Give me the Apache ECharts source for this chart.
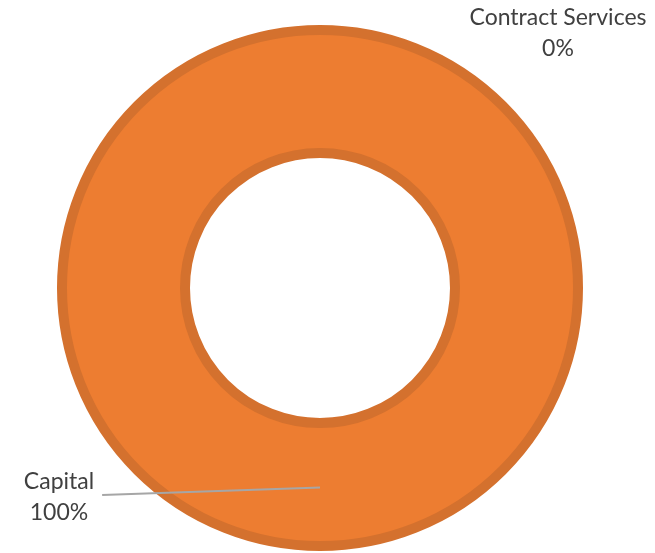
<!DOCTYPE html>
<html>
<head>
<meta charset="utf-8">
<script src="https://cdn.jsdelivr.net/npm/echarts@6/dist/echarts.min.js"></script>
<style>
  html, body { margin: 0; padding: 0; background: #ffffff; }
  #chart { width: 655px; height: 553px; }
</style>
</head>
<body>
<div id="chart"></div>
<script>
// Budget share by category
const categories = ['Capital', 'Contract Services'];
const values = [100, 0];

// Ring geometry and label anchors (px)
const CENTER = [320, 288];
const RADIUS = [135, 258];
const LABEL_POS = {
  'Capital': [59, 497],
  'Contract Services': [558, 33]
};

function seriesData() {
  return categories.map(function (name, i) {
    return {
      name: name,
      value: values[i],
      itemStyle: values[i] === 0 ? { borderWidth: 0 } : undefined,
      labelLine: { show: values[i] !== 0 }
    };
  });
}

const chart = echarts.init(document.getElementById('chart'), null, { renderer: 'canvas' });

chart.setOption({
  animation: false,
  backgroundColor: '#ffffff',
  series: [
    {
      // the doughnut itself
      type: 'pie',
      z: 2,
      center: CENTER,
      radius: RADIUS,
      startAngle: 90,
      clockwise: true,
      silent: true,
      itemStyle: { color: '#ED7D31', borderColor: '#D4712E', borderWidth: 10 },
      label: { show: false },
      labelLine: { show: false },
      data: seriesData()
    },
    {
      // transparent overlay carrying the labels so leader lines sit above the ring
      type: 'pie',
      z: 3,
      center: CENTER,
      radius: RADIUS,
      startAngle: 90,
      clockwise: true,
      silent: true,
      avoidLabelOverlap: false,
      itemStyle: { color: 'rgba(0,0,0,0)', borderWidth: 0 },
      label: {
        show: true,
        position: 'outside',
        formatter: '{b}\n{d}%',
        color: '#404040',
        fontFamily: 'Lato',
        fontSize: 23,
        lineHeight: 31,
        align: 'center'
      },
      labelLine: { show: true, lineStyle: { color: '#A6A6A6', width: 2 } },
      labelLayout: function (p) {
        const pos = LABEL_POS[categories[p.dataIndex]];
        const out = { x: pos[0], y: pos[1], align: 'center', verticalAlign: 'middle' };
        if (p.labelLinePoints && p.labelLinePoints.length) {
          // leader line runs from the middle of the ring to the label's right side
          const a = p.labelLinePoints[0];
          const dx = a[0] - CENTER[0], dy = a[1] - CENTER[1];
          const d = Math.hypot(dx, dy) || 1;
          const rMid = (RADIUS[0] + RADIUS[1]) / 2 + 3;
          const start = [CENTER[0] + dx / d * rMid, CENTER[1] + dy / d * rMid];
          const end = [pos[0] + p.labelRect.width / 2 + 8, pos[1] - 2];
          out.labelLinePoints = [start, start, end];
        }
        return out;
      },
      data: seriesData()
    }
  ]
});
</script>
</body>
</html>
